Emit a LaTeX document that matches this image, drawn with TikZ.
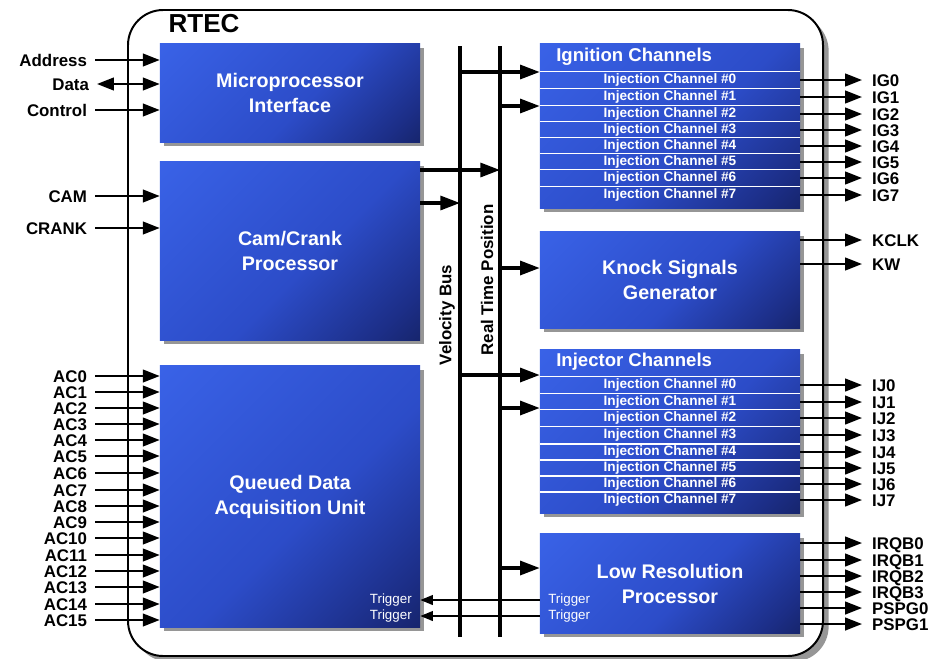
\documentclass[tikz,border=0pt]{standalone}
\usepackage{fontspec}
\setmainfont{Liberation Sans}
\usetikzlibrary{arrows.meta,shadows}

\definecolor{blocklight}{RGB}{62,106,242}
\definecolor{blockmid}{RGB}{44,76,200}
\definecolor{blockdeep}{RGB}{28,46,135}
\definecolor{blockdark}{RGB}{12,20,60}
\definecolor{shadowgray}{RGB}{150,150,150}

\pgfdeclareverticalshading{blockshade}{100bp}{color(0bp)=(blockdark); color(22bp)=(blockdeep);
  color(45bp)=(blockmid); color(100bp)=(blocklight)}

\tikzset{
  block/.style={shade, shading=blockshade, shading angle=45, text=white, align=center,
    font=\fontsize{14}{17.8}\selectfont\bfseries, inner sep=0pt, minimum width=6.5cm,
    drop shadow={shadow xshift=3pt, shadow yshift=-3pt, fill=shadowgray, opacity=1}},
  chanhead/.style={anchor=west, inner sep=0pt, text=white,
    font=\fontsize{13.2}{15}\selectfont\bfseries},
  chanrow/.style={minimum width=6.5cm, minimum height=0.4cm, inner sep=0pt, text=white,
    font=\fontsize{9.7}{10}\selectfont\bfseries},
  sepline/.style={white, line width=1.1pt},
  inlabel/.style={anchor=east, inner xsep=5.5pt, inner ysep=0pt, text height=9pt,
    text depth=0pt, font=\fontsize{12}{14}\selectfont\bfseries},
  outlabel/.style={anchor=west, inner xsep=7pt, inner ysep=0pt, text height=9pt,
    text depth=0pt, font=\fontsize{12}{14}\selectfont\bfseries},
  triglabel/.style={inner sep=0pt, text=white, font=\fontsize{9.5}{11}\selectfont},
  buslabel/.style={rotate=90, inner sep=0pt, font=\fontsize{12}{14}\selectfont\bfseries},
  sig/.style={line width=1.5pt, -{Triangle[length=12pt,width=9pt]}},
  bidir/.style={line width=1.5pt, {Triangle[length=12pt,width=9pt]}-{Triangle[length=12pt,width=9pt]}},
  busline/.style={line width=2.5pt},
  busarrow/.style={line width=2.2pt, -{Triangle[length=14pt,width=10pt]}},
  trigline/.style={line width=1.2pt, -{Triangle[length=9pt,width=7pt]}},
  rtecframe/.style={line width=1.4pt, rounded corners=25pt, fill=white,
    drop shadow={shadow xshift=4pt, shadow yshift=-4pt, fill=shadowgray, opacity=1}}
}

\begin{document}
\begin{tikzpicture}[x=0.025cm, y=-0.025cm]
    \useasboundingbox (0,0) rectangle (944,658);

    % outer frame
    \draw[rtecframe] (128,10) rectangle (823,656);
    \node[font=\fontsize{18.5}{20}\selectfont\bfseries] (rtec) at (204,24) {RTEC};

    % left column
    \node[block, minimum height=2.45cm] (micro) at (290,93) {Microprocessor\\Interface};
    \node[block, minimum height=4.45cm] (cam) at (290,251) {Cam/Crank\\Processor};
    \node[block, minimum height=6.525cm] (qda) at (290,496.5) {Queued Data\\Acquisition Unit};

    % right column
    \node[block, minimum height=4.1cm] (ignit) at (670,126) {};
    \node[block, minimum height=2.4cm] (knock) at (670,280) {Knock Signals\\Generator};
    \node[block, minimum height=4.075cm] (inject) at (670,431.5) {};
    \node[block, minimum height=2.475cm] (lowres) at (670,583.5) {Low Resolution\\Processor};

    % buses
    \coordinate (vbtop) at (460,46);
    \coordinate (vbbot) at (460,637);
    \draw[busline] (vbtop) -- (vbbot);
    \coordinate (rttop) at (500,46);
    \coordinate (rtbot) at (500,637);
    \draw[busline] (rttop) -- (rtbot);
    \node[buslabel] (vblabel) at (447,315) {Velocity Bus};
    \node[buslabel] (rtlabel) at (487,280) {Real Time Position};

    % microprocessor interface
    \node[inlabel] (addr) at (95,60) {Address};
    \draw[sig] (addr) -- (addr -| micro.west);
    \node[inlabel] (data) at (97,84) {Data};
    \draw[bidir] (data) -- (data -| micro.west);
    \node[inlabel] (ctrl) at (95,110) {Control};
    \draw[sig] (ctrl) -- (ctrl -| micro.west);

    % cam/crank
    \node[inlabel] (camin) at (95,196) {CAM};
    \draw[sig] (camin) -- (camin -| cam.west);
    \node[inlabel] (crank) at (95,228) {CRANK};
    \draw[sig] (crank) -- (crank -| cam.west);
    \coordinate (cc0) at (420,170);
    \draw[busarrow] (cc0) -- (cc0 -| rttop);
    \coordinate (cc1) at (420,203);
    \draw[busarrow] (cc1) -- (cc1 -| vbtop);

    % queued data acquisition
    \node[inlabel] (ac0) at (95,376) {AC0};
    \draw[sig] (ac0) -- (ac0 -| qda.west);
    \node[inlabel] (ac1) at (95,392) {AC1};
    \draw[sig] (ac1) -- (ac1 -| qda.west);
    \node[inlabel] (ac2) at (95,408) {AC2};
    \draw[sig] (ac2) -- (ac2 -| qda.west);
    \node[inlabel] (ac3) at (95,424) {AC3};
    \draw[sig] (ac3) -- (ac3 -| qda.west);
    \node[inlabel] (ac4) at (95,440) {AC4};
    \draw[sig] (ac4) -- (ac4 -| qda.west);
    \node[inlabel] (ac5) at (95,456) {AC5};
    \draw[sig] (ac5) -- (ac5 -| qda.west);
    \node[inlabel] (ac6) at (95,473) {AC6};
    \draw[sig] (ac6) -- (ac6 -| qda.west);
    \node[inlabel] (ac7) at (95,490) {AC7};
    \draw[sig] (ac7) -- (ac7 -| qda.west);
    \node[inlabel] (ac8) at (95,506) {AC8};
    \draw[sig] (ac8) -- (ac8 -| qda.west);
    \node[inlabel] (ac9) at (95,522) {AC9};
    \draw[sig] (ac9) -- (ac9 -| qda.west);
    \node[inlabel] (ac10) at (95,538) {AC10};
    \draw[sig] (ac10) -- (ac10 -| qda.west);
    \node[inlabel] (ac11) at (95,555) {AC11};
    \draw[sig] (ac11) -- (ac11 -| qda.west);
    \node[inlabel] (ac12) at (95,571) {AC12};
    \draw[sig] (ac12) -- (ac12 -| qda.west);
    \node[inlabel] (ac13) at (95,587) {AC13};
    \draw[sig] (ac13) -- (ac13 -| qda.west);
    \node[inlabel] (ac14) at (95,604) {AC14};
    \draw[sig] (ac14) -- (ac14 -| qda.west);
    \node[inlabel] (ac15) at (95,620) {AC15};
    \draw[sig] (ac15) -- (ac15 -| qda.west);

    % ignition channels
    \node[chanhead] (ighead) at (556,57) {Ignition Channels};
    \coordinate (vb0) at (460,72);
    \draw[busarrow] (vb0) -- (vb0 -| ignit.west);
    \coordinate (rt0) at (500,106);
    \draw[busarrow] (rt0) -- (rt0 -| ignit.west);

    \node[chanrow] (igr0) at (670,80) {Injection Channel \#0};
    \draw[sepline] (igr0.north west) -- (igr0.north east);
    \node[outlabel] (ig0) at (862,80) {IG0};
    \draw[sig] (igr0) -- (ig0);
    \node[chanrow] (igr1) at (670,97) {Injection Channel \#1};
    \draw[sepline] (igr1.north west) -- (igr1.north east);
    \node[outlabel] (ig1) at (862,97) {IG1};
    \draw[sig] (igr1) -- (ig1);
    \node[chanrow] (igr2) at (670,114) {Injection Channel \#2};
    \draw[sepline] (igr2.north west) -- (igr2.north east);
    \node[outlabel] (ig2) at (862,114) {IG2};
    \draw[sig] (igr2) -- (ig2);
    \node[chanrow] (igr3) at (670,130) {Injection Channel \#3};
    \draw[sepline] (igr3.north west) -- (igr3.north east);
    \node[outlabel] (ig3) at (862,130) {IG3};
    \draw[sig] (igr3) -- (ig3);
    \node[chanrow] (igr4) at (670,146) {Injection Channel \#4};
    \draw[sepline] (igr4.north west) -- (igr4.north east);
    \node[outlabel] (ig4) at (862,146) {IG4};
    \draw[sig] (igr4) -- (ig4);
    \node[chanrow] (igr5) at (670,162) {Injection Channel \#5};
    \draw[sepline] (igr5.north west) -- (igr5.north east);
    \node[outlabel] (ig5) at (862,162) {IG5};
    \draw[sig] (igr5) -- (ig5);
    \node[chanrow] (igr6) at (670,178) {Injection Channel \#6};
    \draw[sepline] (igr6.north west) -- (igr6.north east);
    \node[outlabel] (ig6) at (862,178) {IG6};
    \draw[sig] (igr6) -- (ig6);
    \node[chanrow] (igr7) at (670,195) {Injection Channel \#7};
    \draw[sepline] (igr7.north west) -- (igr7.north east);
    \node[outlabel] (ig7) at (862,195) {IG7};
    \draw[sig] (igr7) -- (ig7);

    % knock signals
    \coordinate (rt1) at (500,268);
    \draw[busarrow] (rt1) -- (rt1 -| knock.west);
    \node[outlabel] (kclk) at (862,240) {KCLK};
    \draw[sig] (kclk -| knock.east) -- (kclk);
    \node[outlabel] (kw) at (862,264) {KW};
    \draw[sig] (kw -| knock.east) -- (kw);

    % injector channels
    \node[chanhead] (ijhead) at (556,362) {Injector Channels};
    \coordinate (vb1) at (460,375);
    \draw[busarrow] (vb1) -- (vb1 -| inject.west);
    \coordinate (rt2) at (500,408);
    \draw[busarrow] (rt2) -- (rt2 -| inject.west);

    \node[chanrow] (ijr0) at (670,385) {Injection Channel \#0};
    \draw[sepline] (ijr0.north west) -- (ijr0.north east);
    \node[outlabel] (ij0) at (862,385) {IJ0};
    \draw[sig] (ijr0) -- (ij0);
    \node[chanrow] (ijr1) at (670,402) {Injection Channel \#1};
    \draw[sepline] (ijr1.north west) -- (ijr1.north east);
    \node[outlabel] (ij1) at (862,402) {IJ1};
    \draw[sig] (ijr1) -- (ij1);
    \node[chanrow] (ijr2) at (670,418) {Injection Channel \#2};
    \draw[sepline] (ijr2.north west) -- (ijr2.north east);
    \node[outlabel] (ij2) at (862,418) {IJ2};
    \draw[sig] (ijr2) -- (ij2);
    \node[chanrow] (ijr3) at (670,435) {Injection Channel \#3};
    \draw[sepline] (ijr3.north west) -- (ijr3.north east);
    \node[outlabel] (ij3) at (862,435) {IJ3};
    \draw[sig] (ijr3) -- (ij3);
    \node[chanrow] (ijr4) at (670,452) {Injection Channel \#4};
    \draw[sepline] (ijr4.north west) -- (ijr4.north east);
    \node[outlabel] (ij4) at (862,452) {IJ4};
    \draw[sig] (ijr4) -- (ij4);
    \node[chanrow] (ijr5) at (670,468) {Injection Channel \#5};
    \draw[sepline] (ijr5.north west) -- (ijr5.north east);
    \node[outlabel] (ij5) at (862,468) {IJ5};
    \draw[sig] (ijr5) -- (ij5);
    \node[chanrow] (ijr6) at (670,484) {Injection Channel \#6};
    \draw[sepline] (ijr6.north west) -- (ijr6.north east);
    \node[outlabel] (ij6) at (862,484) {IJ6};
    \draw[sig] (ijr6) -- (ij6);
    \node[chanrow] (ijr7) at (670,500) {Injection Channel \#7};
    \draw[sepline] (ijr7.north west) -- (ijr7.north east);
    \node[outlabel] (ij7) at (862,500) {IJ7};
    \draw[sig] (ijr7) -- (ij7);

    % low resolution processor
    \coordinate (rt3) at (500,568);
    \draw[busarrow] (rt3) -- (rt3 -| lowres.west);
    \node[outlabel] (irqb0) at (862,543) {IRQB0};
    \draw[sig] (irqb0 -| lowres.east) -- (irqb0);
    \node[outlabel] (irqb1) at (862,560) {IRQB1};
    \draw[sig] (irqb1 -| lowres.east) -- (irqb1);
    \node[outlabel] (irqb2) at (862,576) {IRQB2};
    \draw[sig] (irqb2 -| lowres.east) -- (irqb2);
    \node[outlabel] (irqb3) at (862,592) {IRQB3};
    \draw[sig] (irqb3 -| lowres.east) -- (irqb3);
    \node[outlabel] (pspg0) at (862,608) {PSPG0};
    \draw[sig] (pspg0 -| lowres.east) -- (pspg0);
    \node[outlabel] (pspg1) at (862,624) {PSPG1};
    \draw[sig] (pspg1 -| lowres.east) -- (pspg1);

    % triggers
    \node[triglabel, anchor=east] (qtrig0) at (412,600) {Trigger};
    \node[triglabel, anchor=east] (qtrig1) at (412,616) {Trigger};
    \node[triglabel, anchor=west] (ltrig0) at (548,600) {Trigger};
    \node[triglabel, anchor=west] (ltrig1) at (548,616) {Trigger};
    \draw[trigline] (ltrig0 -| lowres.west) -- (qtrig0 -| qda.east);
    \draw[trigline] (ltrig1 -| lowres.west) -- (qtrig1 -| qda.east);
\end{tikzpicture}
\end{document}
